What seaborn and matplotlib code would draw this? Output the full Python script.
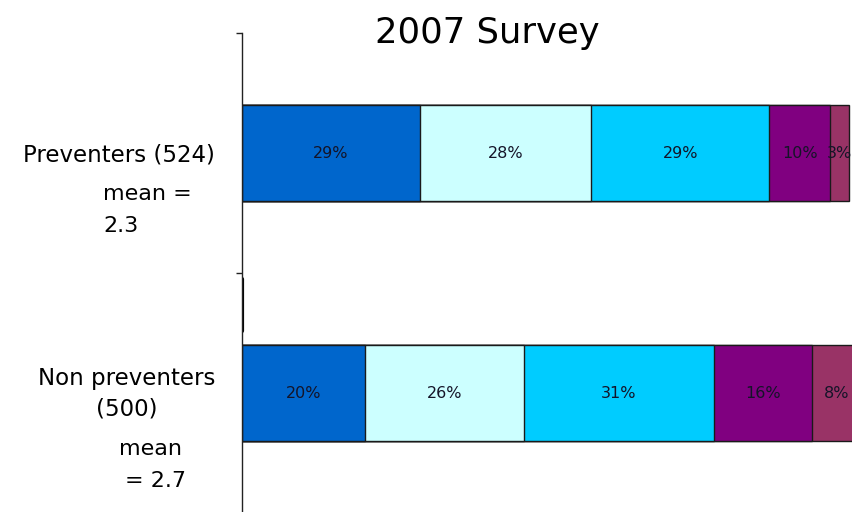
import numpy as np
import pandas as pd
import seaborn as sns
import matplotlib.pyplot as plt

# data
groups = ['Preventers', 'Non preventers']
sizes = [524, 500]
means = [2.3, 2.7]
segments = ['1', '2', '3', '4', '5']
prev_pct = [29, 28, 29, 10, 3]
nonprev_pct = [20, 26, 31, 16, 8]
seg_colors = ['#0066CC', '#CCFFFF', '#00CCFF', '#800080', '#993366']

df = pd.DataFrame({'group': np.repeat(groups, len(segments)),
                   'segment': segments * 2,
                   'pct': prev_pct + nonprev_pct})
df['cum'] = df.groupby('group', sort=False)['pct'].cumsum()

sns.set_style('white')
plt.rcParams['font.family'] = ['DejaVu Sans']
plt.rcParams['text.color'] = 'black'

W, H = 853, 512
px_per_pct = 6.13
fig = plt.figure(figsize=(W / 100, H / 100), dpi=100)
# axes runs past the right edge of the figure, so the last bar is cut off as in the original
ax = fig.add_axes([242 / W, 1 - 513 / H, 640 / W, 480 / H])

# stack by drawing cumulative totals from the last segment back to the first
for seg, col in reversed(list(zip(segments, seg_colors))):
    sub = df[df['segment'] == seg]
    sns.barplot(data=sub, x='cum', y='group', order=groups, orient='h',
                color=col, saturation=1, width=0.4, errorbar=None,
                edgecolor='#1a1a1a', linewidth=1, ax=ax)

for _, r in df.iterrows():
    ax.text(r['cum'] - r['pct'] / 2, groups.index(r['group']), f"{r['pct']}%",
            ha='center', va='center', fontsize=11.5, color='#141428')

ax.set_xlim(0, 640 / px_per_pct)
ax.set_ylim(1.5, -0.5)
ax.set_xlabel('') ; ax.set_ylabel('')
ax.set_xticks([])
ax.set_yticks([])
ax.set_yticks([-0.5, 0.5, 1.5], minor=True)
ax.tick_params(axis='y', which='minor', left=True, length=4, width=1,
               direction='out', color='#222222')
for s in ['top', 'right', 'bottom']:
    ax.spines[s].set_visible(False)
ax.spines['left'].set_color('#222222')
ax.spines['left'].set_linewidth(1)
ax.axvline(0, ymin=0.379, ymax=0.4875, color='black', lw=3)

# title and the group labels on the left
fig.text(487 / W, 1 - 43 / H, '2007 Survey', ha='center', va='baseline', fontsize=25.5)
fs = 16
fig.text(215 / W, 1 - 162 / H, f'{groups[0]} ({sizes[0]})', ha='right', va='baseline', fontsize=16.5)
fig.text(103 / W, 1 - 200 / H, 'mean =', ha='left', va='baseline', fontsize=fs)
fig.text(103 / W, 1 - 232 / H, f'{means[0]}', ha='left', va='baseline', fontsize=fs)
fig.text(127 / W, 1 - 385 / H, groups[1], ha='center', va='baseline', fontsize=16.5)
fig.text(127 / W, 1 - 416 / H, f'({sizes[1]})', ha='center', va='baseline', fontsize=16.5)
fig.text(151 / W, 1 - 455 / H, 'mean', ha='center', va='baseline', fontsize=fs)
fig.text(156 / W, 1 - 487 / H, f'= {means[1]}', ha='center', va='baseline', fontsize=fs)

fig.savefig('out.png', dpi=100)
plt.close()
